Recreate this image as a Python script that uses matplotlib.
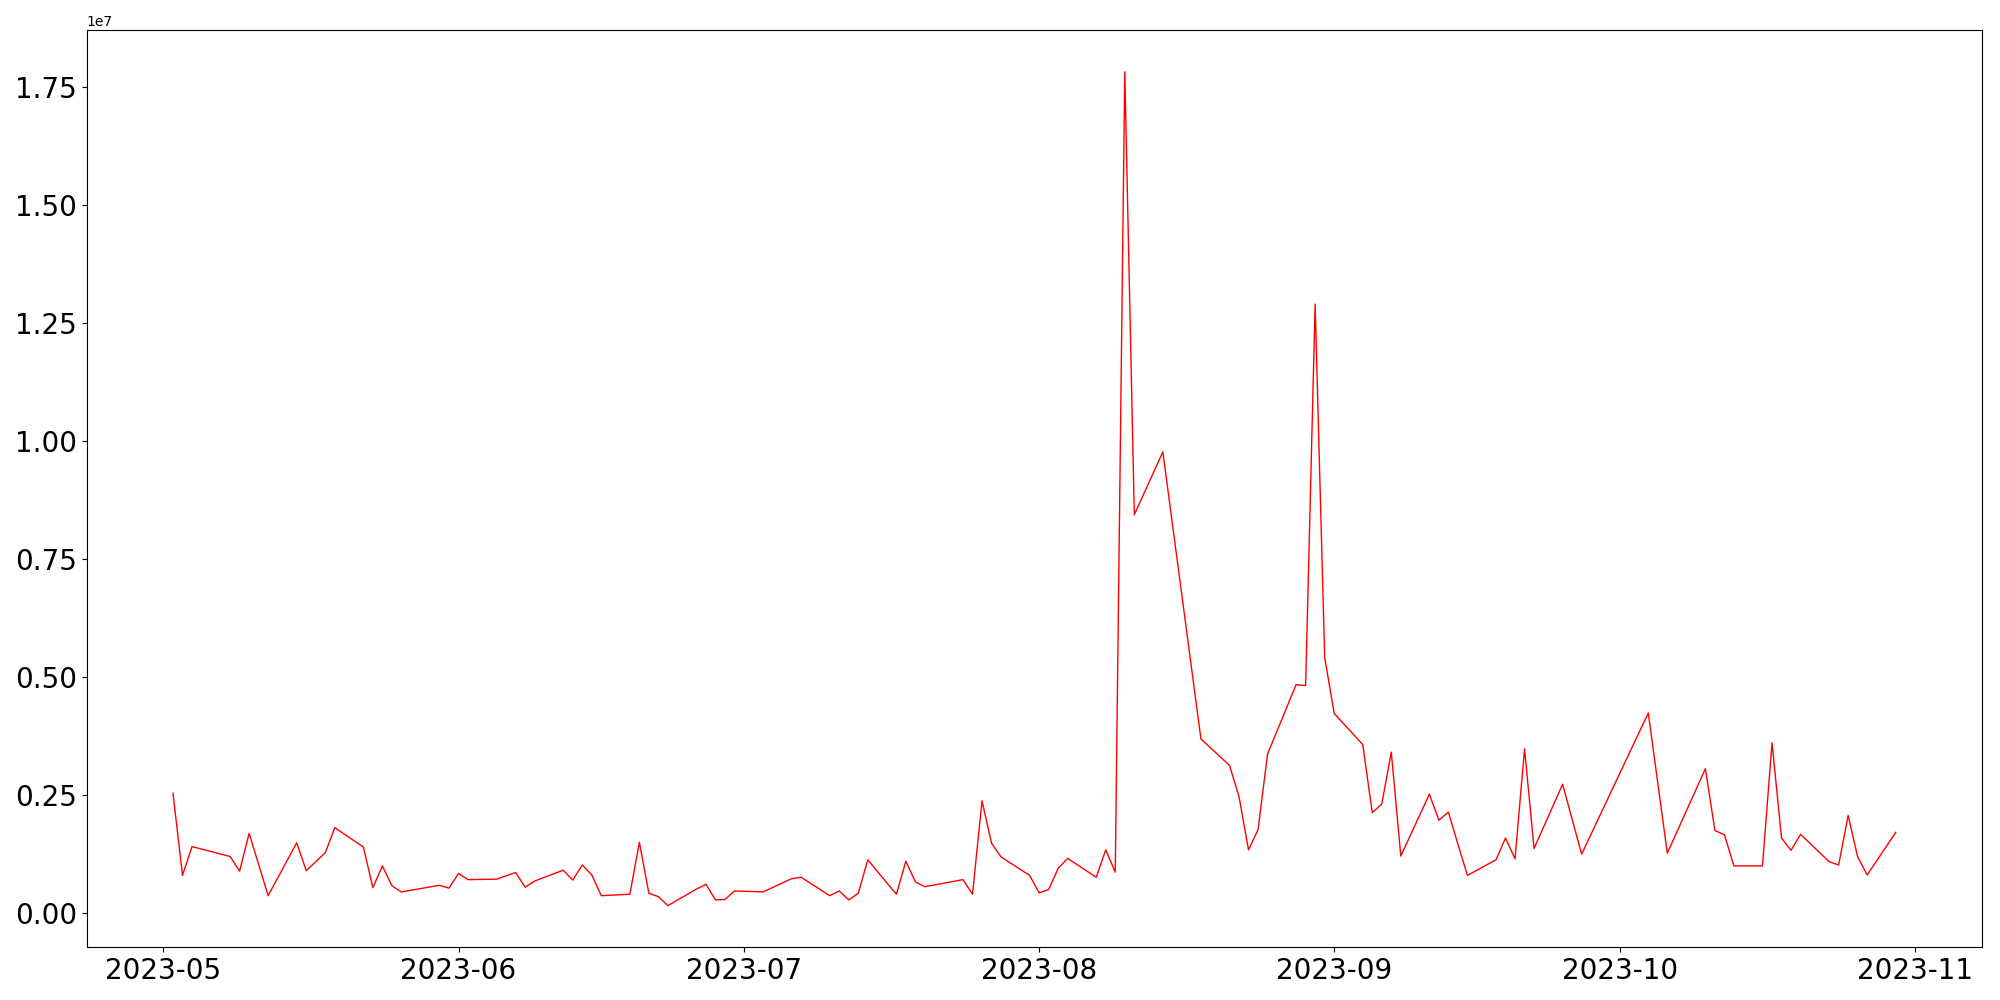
import pandas as pd
import matplotlib
matplotlib.use("Agg")
import matplotlib.pyplot as plt

# dates (business days, with some gaps) and values in units of 1e7
dates = [
    "2023-05-02", "2023-05-03", "2023-05-04", "2023-05-08", "2023-05-09", "2023-05-10",
    "2023-05-12", "2023-05-15", "2023-05-16", "2023-05-18", "2023-05-19", "2023-05-22",
    "2023-05-23", "2023-05-24", "2023-05-25", "2023-05-26", "2023-05-30", "2023-05-31",
    "2023-06-01", "2023-06-02", "2023-06-05", "2023-06-07", "2023-06-08", "2023-06-09",
    "2023-06-12", "2023-06-13", "2023-06-14", "2023-06-15", "2023-06-16", "2023-06-19",
    "2023-06-20", "2023-06-21", "2023-06-22", "2023-06-23", "2023-06-26", "2023-06-27",
    "2023-06-28", "2023-06-29", "2023-06-30", "2023-07-03", "2023-07-06", "2023-07-07",
    "2023-07-10", "2023-07-11", "2023-07-12", "2023-07-13", "2023-07-14", "2023-07-17",
    "2023-07-18", "2023-07-19", "2023-07-20", "2023-07-24", "2023-07-25", "2023-07-26",
    "2023-07-27", "2023-07-28", "2023-07-31", "2023-08-01", "2023-08-02", "2023-08-03",
    "2023-08-04", "2023-08-07", "2023-08-08", "2023-08-09", "2023-08-10", "2023-08-11",
    "2023-08-14", "2023-08-18", "2023-08-21", "2023-08-22", "2023-08-23", "2023-08-24",
    "2023-08-25", "2023-08-28", "2023-08-29", "2023-08-30", "2023-08-31", "2023-09-01",
    "2023-09-04", "2023-09-05", "2023-09-06", "2023-09-07", "2023-09-08", "2023-09-11",
    "2023-09-12", "2023-09-13", "2023-09-14", "2023-09-15", "2023-09-18", "2023-09-19",
    "2023-09-20", "2023-09-21", "2023-09-22", "2023-09-25", "2023-09-26", "2023-09-27",
    "2023-10-04", "2023-10-06", "2023-10-10", "2023-10-11", "2023-10-12", "2023-10-13",
    "2023-10-16", "2023-10-17", "2023-10-18", "2023-10-19", "2023-10-20", "2023-10-23",
    "2023-10-24", "2023-10-25", "2023-10-26", "2023-10-27", "2023-10-30",
]
values = [
    0.254, 0.080, 0.141, 0.120, 0.089, 0.169,
    0.037, 0.149, 0.090, 0.128, 0.181, 0.140,
    0.054, 0.100, 0.058, 0.045, 0.059, 0.053,
    0.084, 0.071, 0.072, 0.086, 0.055, 0.068,
    0.091, 0.070, 0.102, 0.081, 0.037, 0.040,
    0.150, 0.042, 0.035, 0.016, 0.051, 0.061,
    0.028, 0.029, 0.047, 0.045, 0.073, 0.076,
    0.037, 0.047, 0.028, 0.042, 0.113, 0.040,
    0.110, 0.066, 0.056, 0.071, 0.040, 0.238,
    0.148, 0.119, 0.080, 0.043, 0.050, 0.095,
    0.116, 0.076, 0.134, 0.087, 1.782, 0.844,
    0.977, 0.369, 0.313, 0.247, 0.134, 0.177,
    0.337, 0.484, 0.482, 1.290, 0.542, 0.423,
    0.357, 0.213, 0.231, 0.341, 0.121, 0.252,
    0.197, 0.214, 0.146, 0.080, 0.113, 0.159,
    0.115, 0.348, 0.137, 0.273, 0.199, 0.125,
    0.424, 0.127, 0.306, 0.175, 0.166, 0.100,
    0.100, 0.361, 0.159, 0.133, 0.167, 0.109,
    0.102, 0.207, 0.119, 0.081, 0.171,
]

x = pd.to_datetime(dates)
y = [v * 1e7 for v in values]

fig, ax = plt.subplots(figsize=(20, 10), dpi=100)
ax.plot(x, y, color="red", linewidth=1)
ax.tick_params(labelsize=20)
plt.tight_layout()
plt.savefig("out.png")
